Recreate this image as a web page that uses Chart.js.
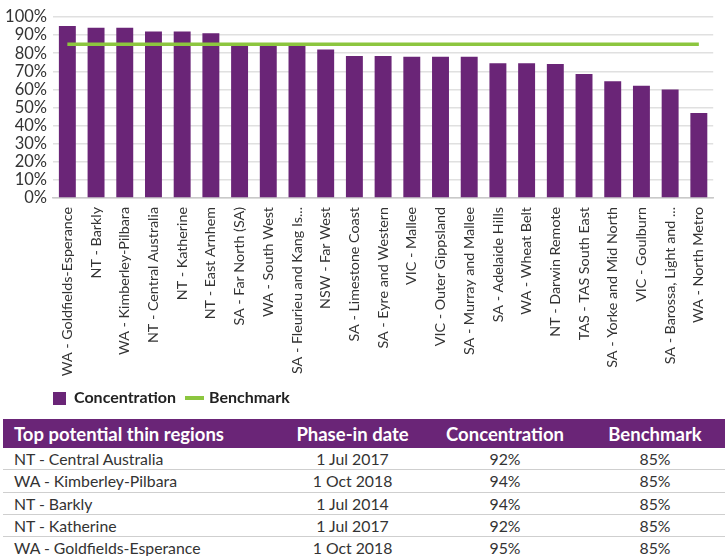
<!DOCTYPE html>
<html>
<head>
<meta charset="utf-8">
<script src="https://cdn.jsdelivr.net/npm/chart.js@4.4.1/dist/chart.umd.min.js"></script>
<style>
  body { margin: 0; background: #fff; font-family: Lato, "Open Sans", sans-serif; width: 725px; height: 556px; overflow: hidden; position: relative; }
  #chartWrap { position: absolute; left: 0; top: 0; width: 725px; height: 416px; }
  #regionTable { position: absolute; top: 419px; left: 3px; width: 722px; border-collapse: collapse; table-layout: fixed; }
  #regionTable th { background: #6a2577; color: #fff; font-weight: 700; font-size: 18.5px; height: 29px; padding: 0; text-align: center; }
  #regionTable td { font-size: 15.8px; color: #333; height: 21.3px; padding: 0; text-align: center; border-bottom: 1.5px solid #cfcfcf; }
  #regionTable th:first-child, #regionTable td:first-child { text-align: left; padding-left: 11px; }
</style>
</head>
<body>
<div id="chartWrap"><canvas id="thinChart"></canvas></div>
<table id="regionTable">
  <colgroup><col style="width:277px"><col style="width:145px"><col style="width:160px"><col style="width:140px"></colgroup>
  <thead><tr><th>Top potential thin regions</th><th>Phase-in date</th><th>Concentration</th><th>Benchmark</th></tr></thead>
  <tbody></tbody>
</table>
<script>
const regions = [
  'WA - Goldfields-Esperance', 'NT - Barkly', 'WA - Kimberley-Pilbara', 'NT - Central Australia',
  'NT - Katherine', 'NT - East Arnhem', 'SA - Far North (SA)', 'WA - South West',
  'SA - Fleurieu and Kang Is...', 'NSW - Far West', 'SA - Limestone Coast', 'SA - Eyre and Western',
  'VIC - Mallee', 'VIC - Outer Gippsland', 'SA - Murray and Mallee', 'SA - Adelaide Hills',
  'WA - Wheat Belt', 'NT - Darwin Remote', 'TAS - TAS South East', 'SA - Yorke and Mid North',
  'VIC - Goulburn', 'SA - Barossa, Light and ...', 'WA - North Metro'
];
const concentration = [95, 94, 94, 92, 92, 91, 84, 84, 84, 82, 78.5, 78.5, 78, 78, 78, 74.5, 74.5, 74, 68.5, 64.5, 62, 60, 47];
const benchmark = [85, 85, 85, 85, 85, 85, 85, 85, 85, 85, 85, 85, 85, 85, 85, 85, 85, 85, 85, 85, 85, 85, 85];
const yTicks = [0, 10, 20, 30, 40, 50, 60, 70, 80, 90, 100];

// table below the chart
const tableRegions = ['NT - Central Australia', 'WA - Kimberley-Pilbara', 'NT - Barkly', 'NT - Katherine', 'WA - Goldfields-Esperance'];
const tableDates = ['1 Jul 2017', '1 Oct 2018', '1 Jul 2014', '1 Jul 2017', '1 Oct 2018'];
const tableConc = ['92%', '94%', '94%', '92%', '95%'];
const tableBench = ['85%', '85%', '85%', '85%', '85%'];

const purple = '#6a2577';
const green = '#8cc63f';

const tbody = document.querySelector('#regionTable tbody');
tableRegions.forEach(function (r, i) {
  const tr = document.createElement('tr');
  [r, tableDates[i], tableConc[i], tableBench[i]].forEach(function (txt) {
    const td = document.createElement('td');
    td.textContent = txt;
    tr.appendChild(td);
  });
  tbody.appendChild(tr);
});

// legend markers
function makeSquare() {
  const c = document.createElement('canvas');
  c.width = 13; c.height = 13;
  const g = c.getContext('2d');
  g.fillStyle = purple;
  g.fillRect(0, 0, 13, 13);
  return c;
}
function makeLine() {
  const c = document.createElement('canvas');
  c.width = 19; c.height = 4;
  const g = c.getContext('2d');
  g.fillStyle = green;
  g.fillRect(0, 0, 19, 4);
  return c;
}
const markers = [makeSquare(), makeLine()];

// push the legend so it starts under the plot area
const legendShift = {
  id: 'legendShift',
  afterLayout(chart) {
    chart.legend.left = 41;
  }
};

Chart.defaults.font.family = 'Lato, "Open Sans", sans-serif';

new Chart(document.getElementById('thinChart'), {
  type: 'bar',
  data: {
    labels: regions,
    datasets: [
      {
        type: 'line',
        label: 'Benchmark',
        data: benchmark,
        borderColor: green,
        backgroundColor: green,
        borderWidth: 3.5,
        pointRadius: 0,
        order: 0
      },
      {
        type: 'bar',
        label: 'Concentration',
        data: concentration,
        backgroundColor: purple,
        categoryPercentage: 1,
        barPercentage: 0.59,
        order: 1
      }
    ]
  },
  options: {
    responsive: true,
    maintainAspectRatio: false,
    animation: false,
    layout: { padding: { top: 17, right: 0, left: 0, bottom: 0 } },
    plugins: {
      tooltip: { enabled: false },
      legend: {
        position: 'bottom',
        align: 'start',
        labels: {
          usePointStyle: true,
          boxWidth: 13,
          boxHeight: 13,
          padding: 12,
          color: '#222',
          font: { size: 16, weight: 'bold' },
          sort: function (a, b) { return b.datasetIndex - a.datasetIndex; },
          generateLabels: function (chart) {
            const items = Chart.defaults.plugins.legend.labels.generateLabels(chart);
            items.forEach(function (it) {
              it.pointStyle = it.datasetIndex === 1 ? markers[0] : markers[1];
            });
            return items;
          }
        }
      }
    },
    scales: {
      x: {
        afterFit: function (scale) { scale.height = 180; },
        grid: { display: false, drawTicks: false },
        border: { color: '#c9c9c9', width: 1.5 },
        ticks: {
          color: '#333',
          font: { size: 14.3 },
          minRotation: 90,
          maxRotation: 90,
          autoSkip: false,
          padding: 9
        }
      },
      y: {
        min: 0,
        max: 100,
        afterFit: function (scale) { scale.width = 53; },
        afterBuildTicks: function (scale) {
          scale.ticks = yTicks.map(function (v) { return { value: v }; });
        },
        grid: { color: '#e0e0e0', lineWidth: 1.5, drawTicks: false },
        border: { display: false },
        ticks: {
          color: '#333',
          font: { size: 16.5 },
          padding: 6,
          autoSkip: false,
          callback: function (v) { return v + '%'; }
        }
      }
    }
  },
  plugins: [legendShift]
});
</script>
</body>
</html>
